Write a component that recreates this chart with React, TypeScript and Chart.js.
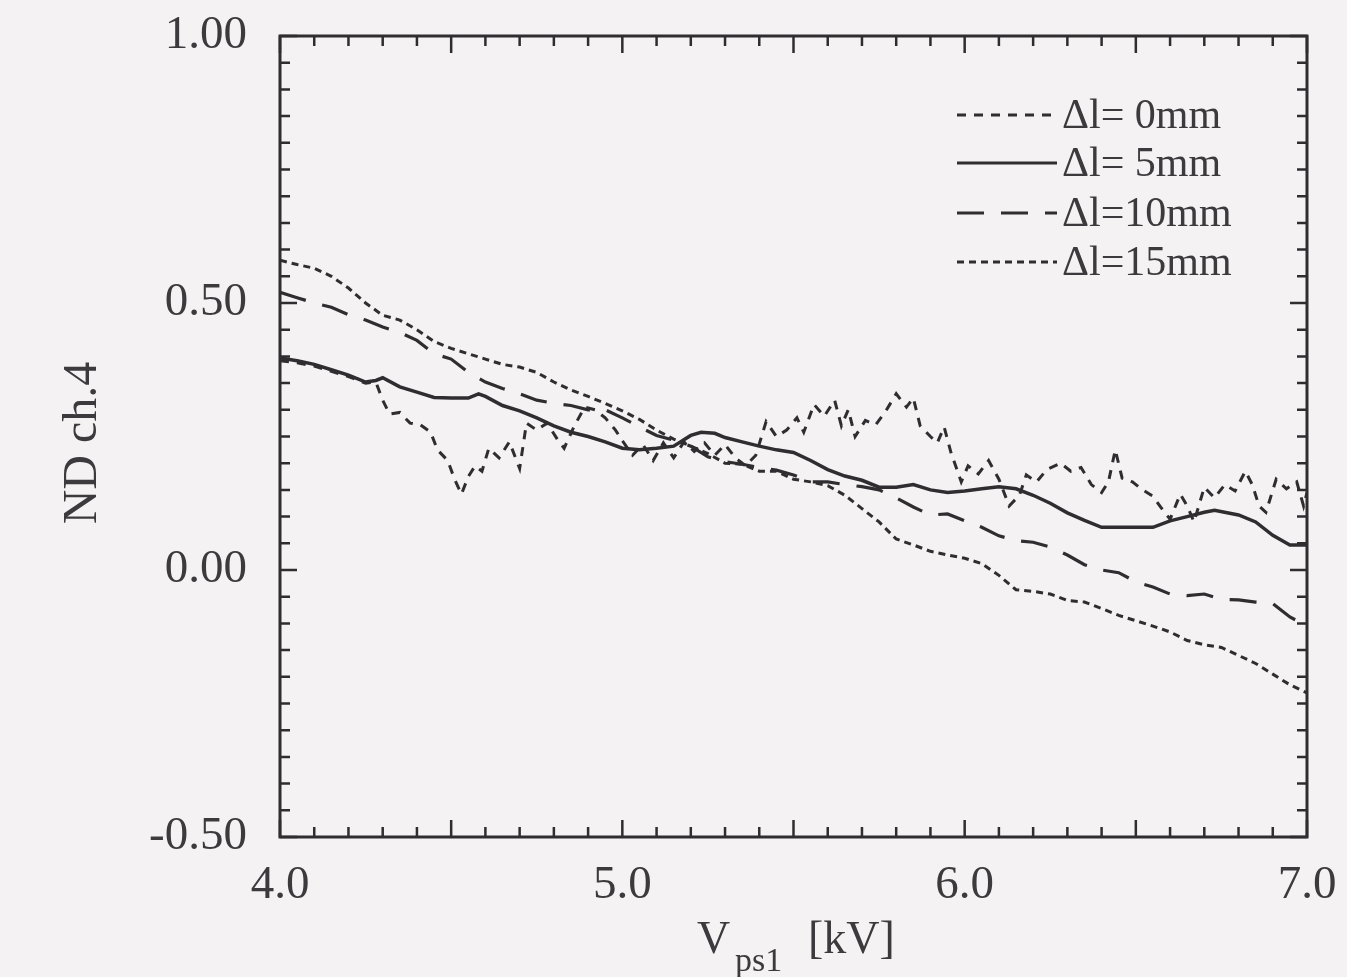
import React, { useEffect, useRef } from "react";
import { Chart, registerables } from "chart.js";

Chart.register(...registerables);

// Axis tick labels
const xTickLabels = ["4.0", "5.0", "6.0", "7.0"];
const yTickLabels = ["-0.50", "0.00", "0.50", "1.00"];

// Legend labels
const seriesLabels = ["\u0394l= 0mm", "\u0394l= 5mm", "\u0394l=10mm", "\u0394l=15mm"];

// Δl = 0 mm (noisy trace)
const v0mm = [
  4.0, 4.05, 4.1, 4.15, 4.2, 4.25, 4.28, 4.3, 4.32, 4.35, 4.38, 4.41, 4.44, 4.46, 4.49, 4.51, 4.53, 4.55,
  4.57, 4.59, 4.61, 4.64, 4.67, 4.7, 4.72, 4.75, 4.78, 4.81, 4.83, 4.86, 4.89, 4.92, 4.95, 4.98, 5.0,
  5.03, 5.06, 5.09, 5.12, 5.15, 5.18, 5.21, 5.24, 5.27, 5.3, 5.33, 5.36, 5.39, 5.42, 5.45, 5.48, 5.51,
  5.53, 5.56, 5.59, 5.62, 5.64, 5.66, 5.68, 5.71, 5.74, 5.77, 5.8, 5.83, 5.85, 5.87, 5.9, 5.92, 5.94,
  5.96, 5.99, 6.01, 6.04, 6.07, 6.1, 6.13, 6.16, 6.18, 6.21, 6.24, 6.28, 6.31, 6.34, 6.37, 6.4, 6.42,
  6.44, 6.46, 6.49, 6.52, 6.55, 6.57, 6.6, 6.63, 6.65, 6.67, 6.7, 6.73, 6.76, 6.79, 6.82, 6.84, 6.86,
  6.88, 6.91, 6.94, 6.97, 6.99, 7.0,
];
const nd0mm = [
  0.392, 0.388, 0.382, 0.372, 0.362, 0.35, 0.352, 0.318, 0.292, 0.295, 0.275, 0.272, 0.258, 0.225, 0.205,
  0.17, 0.142, 0.175, 0.195, 0.185, 0.228, 0.21, 0.24, 0.19, 0.275, 0.262, 0.275, 0.245, 0.228, 0.27,
  0.305, 0.3, 0.285, 0.262, 0.242, 0.215, 0.235, 0.205, 0.238, 0.21, 0.24, 0.222, 0.238, 0.215, 0.235,
  0.21, 0.195, 0.215, 0.278, 0.25, 0.262, 0.285, 0.258, 0.31, 0.288, 0.318, 0.27, 0.3, 0.25, 0.28, 0.272,
  0.298, 0.33, 0.305, 0.322, 0.27, 0.25, 0.238, 0.268, 0.22, 0.165, 0.195, 0.18, 0.205, 0.17, 0.12, 0.14,
  0.178, 0.165, 0.188, 0.2, 0.185, 0.192, 0.16, 0.145, 0.165, 0.225, 0.172, 0.165, 0.15, 0.138, 0.12,
  0.095, 0.142, 0.12, 0.09, 0.155, 0.135, 0.16, 0.148, 0.185, 0.16, 0.12, 0.108, 0.17, 0.152, 0.165,
  0.12, 0.145,
];

// Δl = 5 mm
const v5mm = [
  4.0, 4.05, 4.1, 4.15, 4.2, 4.25, 4.28, 4.3, 4.35, 4.4, 4.45, 4.5, 4.55, 4.58, 4.6, 4.65, 4.7, 4.75, 4.8,
  4.85, 4.9, 4.95, 5.0, 5.05, 5.1, 5.15, 5.2, 5.23, 5.27, 5.3, 5.35, 5.4, 5.45, 5.5, 5.55, 5.6, 5.65, 5.7,
  5.75, 5.8, 5.85, 5.9, 5.95, 6.0, 6.05, 6.1, 6.15, 6.2, 6.25, 6.3, 6.35, 6.4, 6.45, 6.5, 6.55, 6.6, 6.65,
  6.7, 6.73, 6.8, 6.85, 6.9, 6.95, 7.0,
];
const nd5mm = [
  0.397, 0.392, 0.385, 0.375, 0.365, 0.352, 0.355, 0.36, 0.343, 0.333, 0.323, 0.322, 0.322, 0.33, 0.325,
  0.308, 0.298, 0.285, 0.27, 0.258, 0.25, 0.24, 0.228, 0.225, 0.228, 0.232, 0.252, 0.258, 0.256, 0.248,
  0.24, 0.232, 0.225, 0.22, 0.205, 0.188, 0.176, 0.168, 0.155, 0.155, 0.16, 0.15, 0.145, 0.148, 0.152,
  0.156, 0.152, 0.14, 0.125, 0.107, 0.093, 0.08, 0.08, 0.08, 0.08, 0.092, 0.1, 0.108, 0.112, 0.103, 0.09,
  0.065, 0.047, 0.047,
];

// Δl = 10 mm
const v10mm = [
  4.0, 4.05, 4.1, 4.15, 4.2, 4.25, 4.3, 4.35, 4.4, 4.45, 4.5, 4.55, 4.6, 4.65, 4.7, 4.75, 4.8, 4.85, 4.9,
  4.95, 5.0, 5.05, 5.1, 5.15, 5.2, 5.25, 5.3, 5.35, 5.4, 5.45, 5.5, 5.55, 5.6, 5.65, 5.7, 5.75, 5.8, 5.85,
  5.9, 5.95, 6.0, 6.05, 6.1, 6.15, 6.2, 6.25, 6.3, 6.35, 6.4, 6.45, 6.5, 6.55, 6.6, 6.65, 6.7, 6.75, 6.8,
  6.85, 6.9, 6.95, 7.0,
];
const nd10mm = [
  0.52, 0.51, 0.5, 0.492, 0.478, 0.468, 0.455, 0.445, 0.43, 0.405, 0.395, 0.37, 0.352, 0.34, 0.33, 0.318,
  0.312, 0.308, 0.3, 0.3, 0.285, 0.268, 0.252, 0.243, 0.232, 0.212, 0.203, 0.198, 0.192, 0.187, 0.178,
  0.165, 0.165, 0.16, 0.156, 0.15, 0.135, 0.118, 0.103, 0.105, 0.092, 0.08, 0.064, 0.055, 0.052, 0.043,
  0.028, 0.01, 0.0, -0.005, -0.022, -0.032, -0.045, -0.048, -0.045, -0.055, -0.056, -0.06, -0.063, -0.088,
  -0.105,
];

// Δl = 15 mm
const v15mm = [
  4.0, 4.05, 4.1, 4.15, 4.2, 4.25, 4.3, 4.35, 4.4, 4.45, 4.5, 4.55, 4.6, 4.65, 4.7, 4.75, 4.8, 4.85, 4.9,
  4.95, 5.0, 5.05, 5.1, 5.15, 5.2, 5.25, 5.3, 5.35, 5.4, 5.45, 5.5, 5.55, 5.6, 5.65, 5.7, 5.75, 5.8, 5.85,
  5.9, 5.95, 6.0, 6.05, 6.1, 6.15, 6.2, 6.25, 6.3, 6.35, 6.4, 6.45, 6.5, 6.55, 6.6, 6.65, 6.7, 6.75, 6.8,
  6.85, 6.9, 6.95, 7.0,
];
const nd15mm = [
  0.58, 0.572, 0.565, 0.55, 0.528, 0.5, 0.477, 0.468, 0.45, 0.428, 0.415, 0.405, 0.395, 0.385, 0.38, 0.37,
  0.352, 0.337, 0.325, 0.312, 0.298, 0.282, 0.262, 0.245, 0.232, 0.218, 0.2, 0.198, 0.185, 0.185, 0.17,
  0.165, 0.158, 0.14, 0.115, 0.09, 0.058, 0.047, 0.035, 0.028, 0.022, 0.012, -0.01, -0.037, -0.04, -0.045,
  -0.057, -0.06, -0.072, -0.085, -0.095, -0.105, -0.116, -0.132, -0.14, -0.145, -0.16, -0.175, -0.195,
  -0.215, -0.23,
];

const INK = "#302d30";
const TEXT = "#3d3a3d";
const BG = "#f4f2f3";
const SERIF = '"Liberation Serif", "DejaVu Serif", serif';

const toPoints = (xs: number[], ys: number[]) => xs.map((x, i) => ({ x, y: ys[i] }));

// Frame with inward ticks on all four sides, axis titles and the legend box
const decorations = {
  id: "decorations",
  beforeDraw(chart: any) {
    const { ctx, width, height } = chart;
    ctx.save();
    ctx.fillStyle = BG;
    ctx.fillRect(0, 0, width, height);
    ctx.restore();
  },
  afterDraw(chart: any) {
    const { ctx, chartArea } = chart;
    const { left, right, top, bottom } = chartArea;
    const xs = chart.scales.x;
    const ys = chart.scales.y;
    ctx.save();
    ctx.strokeStyle = INK;
    ctx.lineWidth = 3;
    ctx.setLineDash([]);
    ctx.strokeRect(left, top, right - left, bottom - top);

    ctx.lineWidth = 2.5;
    // x ticks every 0.1, longer every 0.5
    for (let i = 0; i <= 30; i++) {
      const v = 4 + i * 0.1;
      const px = xs.getPixelForValue(v);
      const len = i % 5 === 0 ? 17 : 10;
      ctx.beginPath();
      ctx.moveTo(px, bottom);
      ctx.lineTo(px, bottom - len);
      ctx.moveTo(px, top);
      ctx.lineTo(px, top + len);
      ctx.stroke();
    }
    // y ticks every 0.05, longer every 0.5
    for (let i = 0; i <= 30; i++) {
      const v = -0.5 + i * 0.05;
      const py = ys.getPixelForValue(v);
      const len = i % 10 === 0 ? 17 : 10;
      ctx.beginPath();
      ctx.moveTo(left, py);
      ctx.lineTo(left + len, py);
      ctx.moveTo(right, py);
      ctx.lineTo(right - len, py);
      ctx.stroke();
    }

    // x-axis title: V with subscript ps1, then [kV]
    ctx.fillStyle = TEXT;
    ctx.textBaseline = "alphabetic";
    ctx.textAlign = "left";
    ctx.font = `46px ${SERIF}`;
    const baseY = 953;
    ctx.fillText("V", 697, baseY);
    ctx.font = `34px ${SERIF}`;
    ctx.fillText("ps1", 735, baseY + 18);
    ctx.font = `46px ${SERIF}`;
    ctx.fillText("[kV]", 808, baseY);

    // y-axis title
    ctx.save();
    ctx.translate(96, 443);
    ctx.rotate(-Math.PI / 2);
    ctx.textAlign = "center";
    ctx.textBaseline = "alphabetic";
    ctx.font = `48px ${SERIF}`;
    ctx.fillText("ND ch.4", 0, 0);
    ctx.restore();

    // legend
    const rows = [115, 163, 213, 262];
    chart.data.datasets.forEach((ds: any, i: number) => {
      const y = rows[i];
      ctx.strokeStyle = INK;
      ctx.lineWidth = 3;
      ctx.setLineDash(ds.borderDash || []);
      ctx.beginPath();
      ctx.moveTo(957, y);
      ctx.lineTo(1057, y);
      ctx.stroke();
      ctx.setLineDash([]);
      ctx.fillStyle = TEXT;
      ctx.font = `42px ${SERIF}`;
      ctx.textAlign = "left";
      ctx.textBaseline = "middle";
      ctx.fillText(ds.label, 1062, y + 2);
    });
    ctx.restore();
  },
};

export default function App() {
  const canvasRef = useRef<HTMLCanvasElement | null>(null);

  useEffect(() => {
    const canvas = canvasRef.current;
    if (!canvas) return;
    const chart = new Chart(canvas, {
      type: "line",
      data: {
        datasets: [
          {
            label: seriesLabels[0],
            data: toPoints(v0mm, nd0mm),
            borderColor: INK,
            borderWidth: 3,
            borderDash: [9, 8],
            pointRadius: 0,
            tension: 0,
          },
          {
            label: seriesLabels[1],
            data: toPoints(v5mm, nd5mm),
            borderColor: INK,
            borderWidth: 3.5,
            borderDash: [],
            pointRadius: 0,
            tension: 0,
          },
          {
            label: seriesLabels[2],
            data: toPoints(v10mm, nd10mm),
            borderColor: INK,
            borderWidth: 3.2,
            borderDash: [27, 17],
            pointRadius: 0,
            tension: 0,
          },
          {
            label: seriesLabels[3],
            data: toPoints(v15mm, nd15mm),
            borderColor: INK,
            borderWidth: 3,
            borderDash: [7, 5],
            pointRadius: 0,
            tension: 0,
          },
        ],
      },
      options: {
        responsive: false,
        animation: false,
        layout: { padding: { left: 0, right: 40, top: 36, bottom: 0 } },
        plugins: {
          legend: { display: false },
          tooltip: { enabled: false },
        },
        scales: {
          x: {
            type: "linear",
            min: 4,
            max: 7,
            grid: { display: false, drawTicks: false },
            border: { display: false },
            ticks: {
              stepSize: 1,
              padding: 20,
              color: TEXT,
              font: { family: SERIF, size: 47 },
              maxRotation: 0,
              autoSkip: false,
              callback: (v: any) =>
                xTickLabels.find((t) => Math.abs(parseFloat(t) - Number(v)) < 1e-6) ?? "",
            },
            afterFit: (scale: any) => {
              scale.height = 140;
              scale.paddingLeft = 0;
              scale.paddingRight = 0;
            },
          },
          y: {
            min: -0.5,
            max: 1,
            grid: { display: false, drawTicks: false },
            border: { display: false },
            ticks: {
              stepSize: 0.5,
              padding: 33,
              color: TEXT,
              font: { family: SERIF, size: 47 },
              autoSkip: false,
              callback: (v: any) =>
                yTickLabels.find((t) => Math.abs(parseFloat(t) - Number(v)) < 1e-6) ?? "",
            },
            afterFit: (scale: any) => {
              scale.width = 280;
              scale.paddingTop = 0;
              scale.paddingBottom = 0;
            },
          },
        },
      },
      plugins: [decorations],
    });
    return () => chart.destroy();
  }, []);

  return (
    <div
      style={{
        position: "fixed",
        left: 0,
        top: 0,
        width: 1347,
        height: 977,
        background: BG,
      }}
    >
      <canvas ref={canvasRef} width={1347} height={977} />
    </div>
  );
}
